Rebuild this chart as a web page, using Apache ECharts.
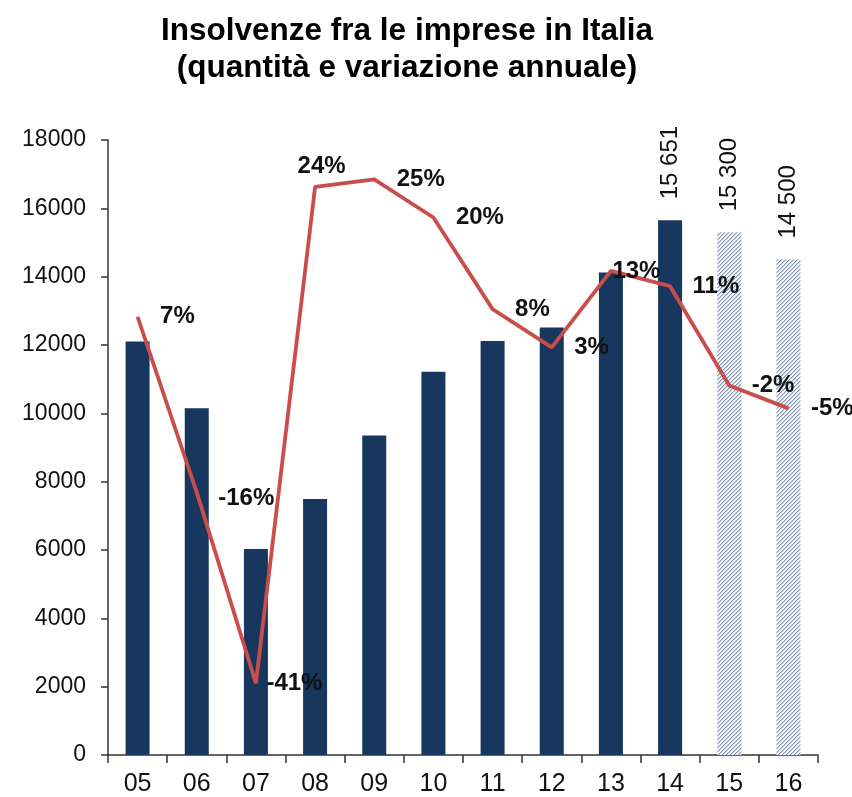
<!DOCTYPE html>
<html>
<head>
<meta charset="utf-8">
<script src="https://cdn.jsdelivr.net/npm/echarts@6/dist/echarts.min.js"></script>
<style>
html,body{margin:0;padding:0;background:#fff;}
#chart{width:852px;height:797px;}
</style>
</head>
<body>
<div id="chart"></div>
<script>
// ---- data ----
var categories = ['05','06','07','08','09','10','11','12','13','14','15','16'];
var insolvencies = [12100, 10150, 6030, 7490, 9350, 11220, 12120, 12510, 14120, 15651, 15300, 14500];
var annualChange = [7, -16, -41, 24, 25, 20, 8, 3, 13, 11, -2, -5];
var forecastCategories = ['15','16'];
var labeledCategories = ['14','15','16'];
var yTicks = { min: 0, max: 18000, interval: 2000 };

// ---- styling ----
var FONT = '"Liberation Sans", Arial, sans-serif';
var NAVY = '#17375e';
var RED = '#c94d4b';

// per-point label tweaks (layout only)
var labelTweaks = {
  '06': { position: [22, 7], align: 'left', verticalAlign: 'middle' },
  '07': { distance: 10 },
  '08': { position: [7, -20], align: 'center', verticalAlign: 'middle' },
  '13': { distance: 1 }
};

function fmtThousands(v) {
  return String(v).replace(/\B(?=(\d{3})+(?!\d))/g, ' ');
}

// hatch pattern for forecast bars (rising diagonal lines)
function makeHatch() {
  var c = document.createElement('canvas');
  var n = 4;
  c.width = n; c.height = n;
  var ctx = c.getContext('2d');
  ctx.fillStyle = '#f7f8fa';
  ctx.fillRect(0, 0, n, n);
  for (var x = 0; x < n; x++) {
    for (var y = 0; y < n; y++) {
      var k = (x + y) % n;
      if (k === 0) { ctx.fillStyle = '#8494b0'; ctx.fillRect(x, y, 1, 1); }
      else if (k === 1) { ctx.fillStyle = '#c6cedb'; ctx.fillRect(x, y, 1, 1); }
    }
  }
  return c;
}
var hatch = makeHatch();

var barData = insolvencies.map(function (v, i) {
  var item = { value: v };
  if (forecastCategories.indexOf(categories[i]) >= 0) {
    item.itemStyle = { color: { image: hatch, repeat: 'repeat' } };
  }
  return item;
});

var lineData = annualChange.map(function (v, i) {
  var item = { value: v };
  var t = labelTweaks[categories[i]];
  if (t) item.label = t;
  return item;
});

var chart = echarts.init(document.getElementById('chart'), null, { renderer: 'canvas' });
chart.setOption({
  animation: false,
  backgroundColor: '#fff',
  title: {
    text: 'Insolvenze fra le imprese in Italia\n(quantità e variazione annuale)',
    left: 402,
    top: 8,
    textAlign: 'center',
    textStyle: {
      fontFamily: FONT,
      fontSize: 31.5,
      fontWeight: 'bold',
      color: '#000',
      lineHeight: 37
    }
  },
  grid: { left: 108, right: 34, top: 140, bottom: 42, containLabel: false },
  xAxis: {
    type: 'category',
    data: categories,
    boundaryGap: true,
    axisLine: { lineStyle: { color: '#333', width: 1.5 } },
    axisTick: { show: true, length: 8, lineStyle: { color: '#333', width: 1.5 } },
    axisLabel: { fontFamily: FONT, fontSize: 25, color: '#111', margin: 17 }
  },
  yAxis: [
    {
      type: 'value',
      min: yTicks.min,
      max: yTicks.max,
      interval: yTicks.interval,
      splitLine: { show: false },
      axisLine: { show: true, lineStyle: { color: '#333', width: 1.5 } },
      axisTick: { show: true, length: 7, lineStyle: { color: '#333', width: 1.5 } },
      axisLabel: {
        fontFamily: FONT, fontSize: 23, color: '#111', margin: 22,
        formatter: function (v) { return String(v); }
      }
    },
    {
      type: 'value',
      show: false,
      min: -50.4,
      max: 30.15,
      splitLine: { show: false }
    }
  ],
  series: [
    {
      type: 'bar',
      data: barData,
      barWidth: 24,
      itemStyle: { color: NAVY },
      label: {
        show: true,
        position: 'top',
        rotate: 90,
        align: 'left',
        verticalAlign: 'middle',
        distance: 21,
        fontFamily: FONT,
        fontSize: 24,
        color: '#111',
        formatter: function (p) {
          return labeledCategories.indexOf(p.name) >= 0 ? fmtThousands(p.value) : '';
        }
      },
      z: 2
    },
    {
      type: 'line',
      yAxisIndex: 1,
      data: lineData,
      symbol: 'circle',
      symbolSize: 1,
      showSymbol: true,
      showAllSymbol: true,
      itemStyle: { color: 'rgba(0,0,0,0)', borderWidth: 0 },
      lineStyle: { color: RED, width: 3.8 },
      labelLayout: { hideOverlap: false },
      label: {
        show: true,
        position: 'right',
        distance: 22,
        fontFamily: FONT,
        fontSize: 24,
        fontWeight: 'bold',
        color: '#111',
        formatter: function (p) { return p.value + '%'; }
      },
      z: 3
    }
  ]
});
</script>
</body>
</html>
